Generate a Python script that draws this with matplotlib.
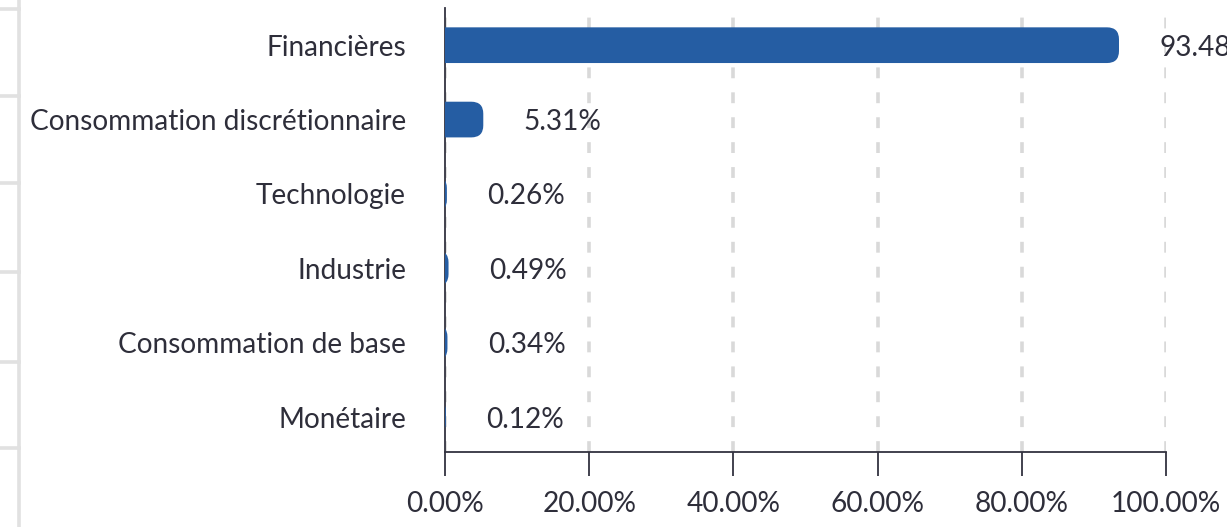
import matplotlib
matplotlib.use('Agg')
import matplotlib.pyplot as plt
from matplotlib.patches import FancyBboxPatch
from matplotlib.lines import Line2D

# ---- data ----
categories = ['Financières', 'Consommation discrétionnaire', 'Technologie',
              'Industrie', 'Consommation de base', 'Monétaire']
values = [93.48, 5.31, 0.26, 0.49, 0.34, 0.12]
value_labels = ['93.48%', '5.31%', '0.26%', '0.49%', '0.34%', '0.12%']
xticks = [0, 20, 40, 60, 80, 100]
xtick_labels = ['0.00%', '20.00%', '40.00%', '60.00%', '80.00%', '100.00%']

# ---- layout / style ----
W, H, DPI = 1227, 527, 100
plt.rcParams['font.family'] = ['Lato', 'DejaVu Sans']
text_color = '#2e2e3a'
bar_color = '#255DA3'
grid_color = '#d9d9d9'
border_color = '#e1e1e1'
fs = 20.2

fig = plt.figure(figsize=(W / DPI, H / DPI), dpi=DPI)
fig.patch.set_facecolor('white')

left_px, right_px, top_px, bottom_px = 445, 1166, 8, 452
ax = fig.add_axes([left_px / W, 1 - bottom_px / H,
                   (right_px - left_px) / W, (bottom_px - top_px) / H])
n = len(categories)
y_lo, y_hi = n - 0.53, -0.5
ax.set_xlim(0, 100)
ax.set_ylim(y_lo, y_hi)

# bars with rounded right end (left end clipped at the axis)
bar_h = 0.48
r_px = 12
px_per_x = (right_px - left_px) / 100.0
px_per_y = (bottom_px - top_px) / (y_lo - y_hi)
r_x = r_px / px_per_x
aspect = px_per_x / px_per_y
start = -10.0
for i, v in enumerate(values):
    p = FancyBboxPatch((start, i - bar_h / 2), v - start, bar_h,
                       boxstyle=f"round,pad=0,rounding_size={r_x}",
                       mutation_aspect=aspect,
                       facecolor=bar_color, edgecolor='none', zorder=3)
    ax.add_patch(p)
    ax.annotate(value_labels[i], (v, i), xytext=(29, 0), textcoords='offset points',
                ha='left', va='center_baseline', fontsize=fs, color=text_color,
                annotation_clip=False, zorder=4)

ax.set_yticks(range(n))
ax.set_yticklabels(categories, fontsize=fs, color=text_color)
ax.set_xticks(xticks)
ax.set_xticklabels(xtick_labels, fontsize=fs, color=text_color)
ax.tick_params(axis='y', length=0, pad=28)
ax.tick_params(axis='x', direction='out', length=17, width=1.3, color='#333340', pad=11)

ax.set_axisbelow(True)
ax.grid(axis='x', color=grid_color, linewidth=2.6, linestyle=(0, (3.0, 3.9)))
ax.grid(axis='y', visible=False)

for s in ['top', 'right']:
    ax.spines[s].set_visible(False)
for s in ['left', 'bottom']:
    ax.spines[s].set_color('#333340')
    ax.spines[s].set_linewidth(1.3)

# left border decoration (table edge fragment)
border_x = 18.5
fig.add_artist(Line2D([border_x / W, border_x / W], [0, 1], transform=fig.transFigure,
                      color=border_color, lw=2.6))
for yb in [9, 96, 183, 272, 362, 448]:
    fig.add_artist(Line2D([0, border_x / W], [1 - yb / H, 1 - yb / H],
                          transform=fig.transFigure, color=border_color, lw=2.6))

fig.savefig('out.png', dpi=DPI, facecolor='white')
